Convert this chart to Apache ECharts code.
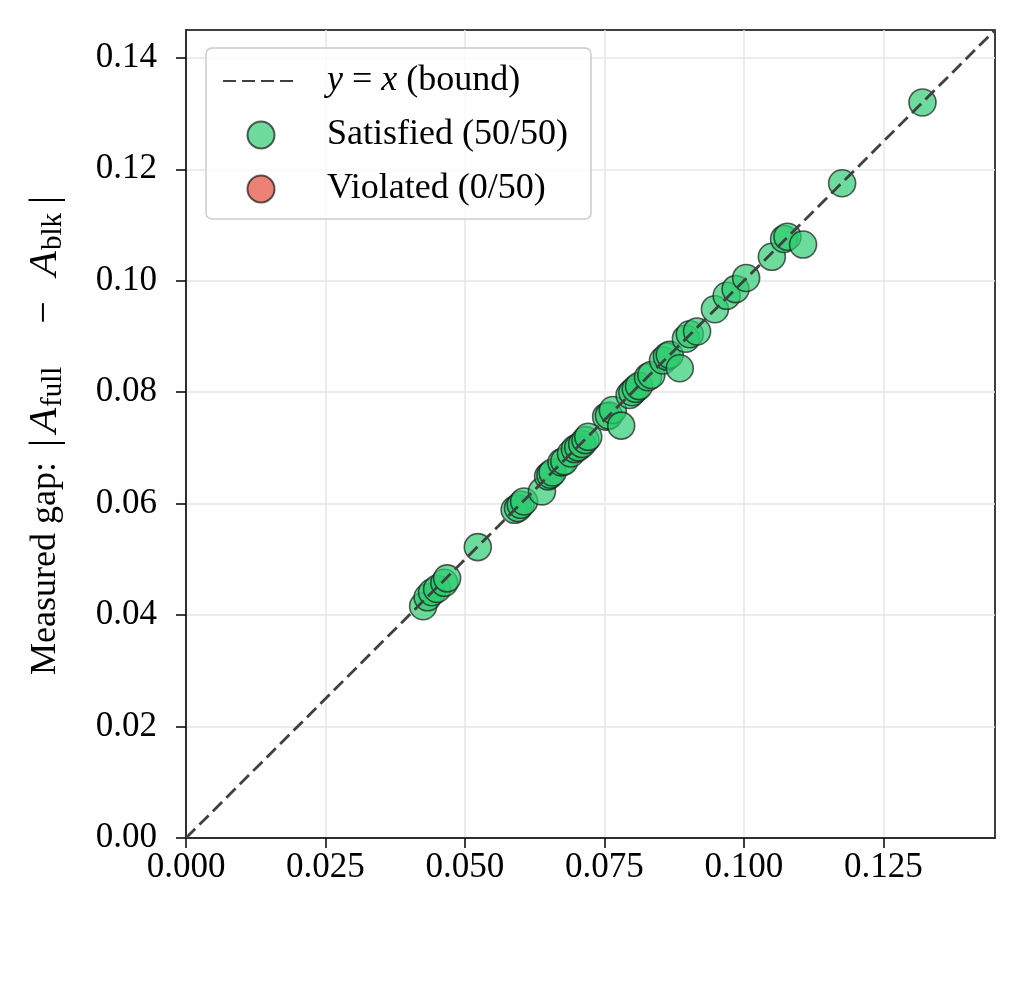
<!DOCTYPE html>
<html>
<head>
<meta charset="utf-8">
<script src="https://cdn.jsdelivr.net/npm/echarts@6/dist/echarts.min.js"></script>
<style>
  html, body { margin: 0; padding: 0; background: #fff; }
  #main { width: 1026px; height: 999px; }
</style>
</head>
<body>
<div id="main"></div>
<script>
// bound |A_full - A_blk| (x) vs measured gap (y)
const boundX = [
  0.0425, 0.0433, 0.0441, 0.0450, 0.0463, 0.0468, 0.0523, 0.0589, 0.0595, 0.0600,
  0.0606, 0.0638, 0.0649, 0.0653, 0.0657, 0.0673, 0.0678, 0.0690, 0.0697, 0.0703,
  0.0710, 0.0716, 0.0721, 0.0753, 0.0758, 0.0765, 0.0780, 0.0795, 0.0800, 0.0806,
  0.0812, 0.0828, 0.0834, 0.0855, 0.0862, 0.0867, 0.0885, 0.0896, 0.0903, 0.0916,
  0.0948, 0.0969, 0.0985, 0.1004, 0.1050, 0.1072, 0.1078, 0.1106, 0.1176, 0.1320
];
const measuredY = [
  0.0416, 0.0432, 0.0441, 0.0447, 0.0458, 0.0466, 0.0522, 0.0589, 0.0592, 0.0598,
  0.0604, 0.0622, 0.0649, 0.0652, 0.0656, 0.0674, 0.0676, 0.0690, 0.0698, 0.0701,
  0.0707, 0.0714, 0.0720, 0.0756, 0.0758, 0.0768, 0.0740, 0.0795, 0.0800, 0.0806,
  0.0811, 0.0827, 0.0831, 0.0857, 0.0864, 0.0867, 0.0843, 0.0896, 0.0904, 0.0909,
  0.0949, 0.0973, 0.0985, 0.1005, 0.1043, 0.1075, 0.1079, 0.1065, 0.1175, 0.1320
];
const xTicks = [0, 0.025, 0.05, 0.075, 0.1, 0.125];
const yTicks = [0, 0.02, 0.04, 0.06, 0.08, 0.10, 0.12, 0.14];
const axisMax = 0.145;

// every run in the figure is under the bound, so "Violated" stays empty
const satisfied = boundX.map((x, i) => [x, measuredY[i]]);
const violated = [];

const FONT = 'Liberation Serif';
const TICK_FS = 35;
const chart = echarts.init(document.getElementById('main'));

chart.setOption({
  animation: false,
  textStyle: { fontFamily: FONT },
  grid: {
    left: 186, right: 31, top: 30, bottom: 161,
    show: true, borderColor: '#000', borderWidth: 1.5, backgroundColor: 'transparent'
  },
  legend: {
    orient: 'vertical',
    left: 206, top: 48,
    padding: [15, 23, 12, 16],
    itemGap: 18,
    itemWidth: 76, itemHeight: 27,
    backgroundColor: 'rgba(255,255,255,0.8)',
    borderColor: '#cccccc', borderWidth: 1.5, borderRadius: 6,
    data: [
      { name: 'bound', itemStyle: { opacity: 0 } },
      'Satisfied (50/50)',
      'Violated (0/50)'
    ],
    formatter: name => name === 'bound' ? '{i|y} = {i|x} (bound)' : name,
    textStyle: {
      fontFamily: FONT, fontSize: 36, lineHeight: 36, color: '#000', padding: [0, 0, 0, 23],
      rich: { i: { fontFamily: FONT, fontStyle: 'italic', fontSize: 36, lineHeight: 36, color: '#000' } }
    }
  },
  xAxis: {
    type: 'value', min: 0, max: axisMax,
    axisLine: { show: true, onZero: false, lineStyle: { color: '#000', width: 1.5 } },
    axisTick: { show: true, customValues: xTicks, length: 10, lineStyle: { color: '#000', width: 1.5 } },
    axisLabel: {
      customValues: xTicks, margin: 12, color: '#000', fontSize: TICK_FS, fontFamily: FONT,
      formatter: v => v.toFixed(3)
    },
    splitLine: { show: true, lineStyle: { color: '#e6e6e6', width: 1.5 } }
  },
  yAxis: {
    type: 'value', min: 0, max: axisMax,
    name: 'Measured gap: {b||}{i|A}{s|full}{m|−}{i|A}{s|blk}{b||}',
    nameLocation: 'middle', nameGap: 118,
    nameTextStyle: {
      fontFamily: FONT, fontSize: 36, color: '#000',
      rich: {
        b: { fontFamily: FONT, fontSize: 40, color: '#000', padding: [0, 3, 0, 6] },
        i: { fontFamily: FONT, fontStyle: 'italic', fontSize: 41, color: '#000', padding: [0, 0, 0, 3] },
        s: { fontFamily: FONT, fontSize: 29, color: '#000', padding: [16, 3, 0, 1] },
        m: { fontFamily: FONT, fontSize: 40, color: '#000', padding: [0, 22, 0, 40] }
      }
    },
    axisLine: { show: true, onZero: false, lineStyle: { color: '#000', width: 1.5 } },
    axisTick: { show: true, customValues: yTicks, length: 10, lineStyle: { color: '#000', width: 1.5 } },
    axisLabel: {
      customValues: yTicks, margin: 29, color: '#000', fontSize: TICK_FS, fontFamily: FONT,
      formatter: v => v.toFixed(2)
    },
    splitLine: { show: true, lineStyle: { color: '#e6e6e6', width: 1.5 } }
  },
  series: [
    {
      name: 'bound', type: 'line', symbol: 'none', z: 3,
      data: [[0, 0], [axisMax, axisMax]],
      lineStyle: { color: '#404040', width: 2.8, type: [13, 6] },
      itemStyle: { color: '#404040' }
    },
    {
      name: 'Satisfied (50/50)', type: 'scatter', symbolSize: 27, z: 2,
      data: satisfied,
      itemStyle: { color: '#2ecc71', opacity: 0.7, borderColor: '#1a1a1a', borderWidth: 1.6 }
    },
    {
      name: 'Violated (0/50)', type: 'scatter', symbolSize: 27, z: 2,
      data: violated,
      itemStyle: { color: '#e74c3c', opacity: 0.7, borderColor: '#1a1a1a', borderWidth: 1.6 }
    }
  ]
});
</script>
</body>
</html>
